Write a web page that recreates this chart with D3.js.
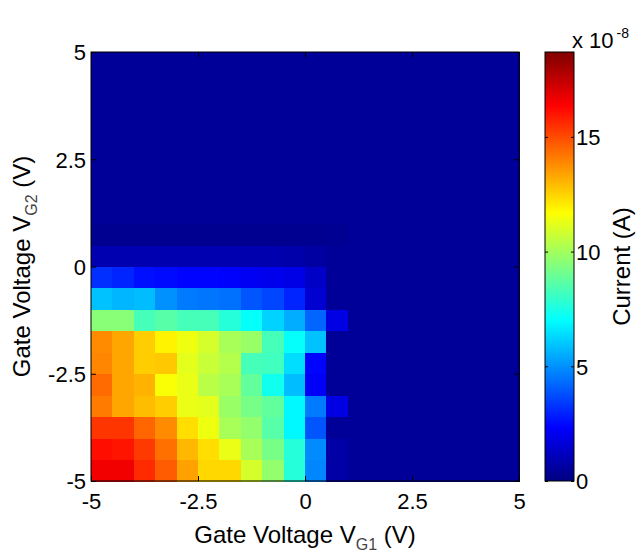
<!DOCTYPE html>
<html>
<head>
<meta charset="utf-8">
<script src="https://cdn.jsdelivr.net/npm/d3@7"></script>
<style>
  body { margin: 0; background: #fff; }
  text { font-family: "Liberation Sans", Arial, sans-serif; fill: #000; }
</style>
</head>
<body>
<script>
// Gate voltage grid (left/bottom edge of each cell, V) and cell size
const vg1 = [-5, -4.5, -4, -3.5, -3, -2.5, -2, -1.5, -1, -0.5, 0, 0.5, 1, 1.5, 2, 2.5, 3, 3.5, 4, 4.5];
const vg2 = [-5, -4.5, -4, -3.5, -3, -2.5, -2, -1.5, -1, -0.5, 0, 0.5, 1, 1.5, 2, 2.5, 3, 3.5, 4, 4.5];
const step = 0.5;

// Current (x 1e-8 A), one row per VG2 value (bottom row first), one entry per VG1 value
const current = [
  [16.6, 16.6, 15.6, 14.7, 13.4, 12.4, 12.4, 10.9, 9.7, 7.7, 4.8, 0.7, 0.45, 0.45, 0.45, 0.45, 0.45, 0.45, 0.45, 0.45],
  [16.1, 16.0, 15.3, 14.3, 13.0, 12.3, 11.3, 10.1, 9.2, 7.7, 4.9, 0.7, 0.45, 0.45, 0.45, 0.45, 0.45, 0.45, 0.45, 0.45],
  [15.4, 15.4, 14.5, 13.8, 12.3, 11.4, 10.1, 9.7, 8.6, 6.9, 3.9, 0.45, 0.45, 0.45, 0.45, 0.45, 0.45, 0.45, 0.45, 0.45],
  [14.1, 13.3, 12.9, 12.6, 11.3, 11.2, 9.8, 9.2, 8.8, 6.9, 4.6, 1.8, 0.45, 0.45, 0.45, 0.45, 0.45, 0.45, 0.45, 0.45],
  [14.4, 13.3, 13.1, 11.6, 11.3, 10.4, 10.1, 8.8, 7.3, 5.8, 2.2, 0.45, 0.45, 0.45, 0.45, 0.45, 0.45, 0.45, 0.45, 0.45],
  [13.9, 13.3, 12.6, 12.7, 11.2, 10.7, 10.3, 8.3, 8.2, 6.4, 2.4, 0.45, 0.45, 0.45, 0.45, 0.45, 0.45, 0.45, 0.45, 0.45],
  [13.8, 13.3, 12.6, 11.9, 11.4, 10.9, 10.1, 9.8, 8.3, 7.1, 5.9, 0.45, 0.45, 0.45, 0.45, 0.45, 0.45, 0.45, 0.45, 0.45],
  [9.5, 9.5, 8.3, 8.6, 8.3, 8.3, 7.7, 7.1, 6.2, 5.5, 4.2, 1.8, 0.45, 0.45, 0.45, 0.45, 0.45, 0.45, 0.45, 0.45],
  [5.9, 5.7, 5.8, 5.0, 4.6, 4.5, 4.4, 3.9, 3.6, 3.0, 1.5, 0.45, 0.45, 0.45, 0.45, 0.45, 0.45, 0.45, 0.45, 0.45],
  [3.2, 3.0, 2.6, 2.5, 2.4, 2.4, 2.3, 2.1, 2.0, 1.9, 1.3, 0.45, 0.45, 0.45, 0.45, 0.45, 0.45, 0.45, 0.45, 0.45],
  [0.9, 0.9, 0.9, 0.9, 0.9, 0.9, 0.9, 0.85, 0.85, 0.8, 0.6, 0.45, 0.45, 0.45, 0.45, 0.45, 0.45, 0.45, 0.45, 0.45],
  [0.3, 0.3, 0.3, 0.3, 0.3, 0.3, 0.3, 0.3, 0.3, 0.3, 0.3, 0.35, 0.45, 0.45, 0.45, 0.45, 0.45, 0.45, 0.45, 0.45],
  [0.45, 0.45, 0.45, 0.45, 0.45, 0.45, 0.45, 0.45, 0.45, 0.45, 0.45, 0.45, 0.45, 0.45, 0.45, 0.45, 0.45, 0.45, 0.45, 0.45],
  [0.45, 0.45, 0.45, 0.45, 0.45, 0.45, 0.45, 0.45, 0.45, 0.45, 0.45, 0.45, 0.45, 0.45, 0.45, 0.45, 0.45, 0.45, 0.45, 0.45],
  [0.45, 0.45, 0.45, 0.45, 0.45, 0.45, 0.45, 0.45, 0.45, 0.45, 0.45, 0.45, 0.45, 0.45, 0.45, 0.45, 0.45, 0.45, 0.45, 0.45],
  [0.45, 0.45, 0.45, 0.45, 0.45, 0.45, 0.45, 0.45, 0.45, 0.45, 0.45, 0.45, 0.45, 0.45, 0.45, 0.45, 0.45, 0.45, 0.45, 0.45],
  [0.45, 0.45, 0.45, 0.45, 0.45, 0.45, 0.45, 0.45, 0.45, 0.45, 0.45, 0.45, 0.45, 0.45, 0.45, 0.45, 0.45, 0.45, 0.45, 0.45],
  [0.45, 0.45, 0.45, 0.45, 0.45, 0.45, 0.45, 0.45, 0.45, 0.45, 0.45, 0.45, 0.45, 0.45, 0.45, 0.45, 0.45, 0.45, 0.45, 0.45],
  [0.45, 0.45, 0.45, 0.45, 0.45, 0.45, 0.45, 0.45, 0.45, 0.45, 0.45, 0.45, 0.45, 0.45, 0.45, 0.45, 0.45, 0.45, 0.45, 0.45],
  [0.45, 0.45, 0.45, 0.45, 0.45, 0.45, 0.45, 0.45, 0.45, 0.45, 0.45, 0.45, 0.45, 0.45, 0.45, 0.45, 0.45, 0.45, 0.45, 0.45]
];

const axisTicks = [-5, -2.5, 0, 2.5, 5];
const cbarTicks = [0, 5, 10, 15];
const cmax = 18.7;

const width = 638, height = 552;
const plot = {left: 91, top: 52, right: 519, bottom: 481};
const cbar = {left: 545, right: 574};

// MATLAB-style jet colormap
function jet(t) {
  const c = v => Math.max(0, Math.min(1, v));
  const r = c(Math.min(4 * t - 1.5, -4 * t + 4.5));
  const g = c(Math.min(4 * t - 0.5, -4 * t + 3.5));
  const b = c(Math.min(4 * t + 0.5, -4 * t + 2.5));
  return d3.rgb(r * 255, g * 255, b * 255).toString();
}

const x = d3.scaleLinear().domain([-5, 5]).range([plot.left, plot.right]);
const y = d3.scaleLinear().domain([-5, 5]).range([plot.bottom, plot.top]);
const color = d3.scaleSequential([0, cmax], jet);
const yc = d3.scaleLinear().domain([0, cmax]).range([plot.bottom, plot.top]);

const cells = [];
vg2.forEach((v2, i) => vg1.forEach((v1, j) => cells.push({v1, v2, value: current[i][j]})));

const svg = d3.select("body").append("svg")
  .attr("width", width)
  .attr("height", height);

svg.append("g")
  .attr("shape-rendering", "crispEdges")
  .selectAll("rect")
  .data(cells)
  .join("rect")
  .attr("x", d => x(d.v1))
  .attr("y", d => y(d.v2 + step))
  .attr("width", d => x(d.v1 + step) - x(d.v1) + 0.5)
  .attr("height", d => y(d.v2) - y(d.v2 + step) + 0.5)
  .attr("fill", d => color(d.value));

// axes, ticks pointing inward like matlab
const tickLen = 5;
const fontTick = 22;
const fmt = d => String(d);
const ax = svg.append("g").attr("transform", `translate(0,${plot.bottom})`)
  .call(d3.axisBottom(x).tickValues(axisTicks).tickSize(-tickLen).tickPadding(12).tickFormat(fmt));
const axTop = svg.append("g").attr("transform", `translate(0,${plot.top})`)
  .call(d3.axisTop(x).tickValues(axisTicks).tickSize(-tickLen).tickFormat(""));
const axLeft = svg.append("g").attr("transform", `translate(${plot.left},0)`)
  .call(d3.axisLeft(y).tickValues(axisTicks).tickSize(-tickLen).tickPadding(5).tickFormat(fmt));
const axRight = svg.append("g").attr("transform", `translate(${plot.right},0)`)
  .call(d3.axisRight(y).tickValues(axisTicks).tickSize(-tickLen).tickFormat(""));

[ax, axTop, axLeft, axRight].forEach(g => {
  g.select(".domain").remove();
  g.selectAll(".tick line").attr("stroke", "#000");
  g.selectAll("text").attr("font-size", fontTick).attr("font-family", "Liberation Sans, Arial, sans-serif").attr("fill", "#000");
});
axLeft.selectAll("text").attr("dy", "0.36em");

svg.append("rect")
  .attr("x", plot.left).attr("y", plot.top)
  .attr("width", plot.right - plot.left).attr("height", plot.bottom - plot.top)
  .attr("fill", "none").attr("stroke", "#000").attr("stroke-width", 1);

// colorbar
const defs = svg.append("defs");
const grad = defs.append("linearGradient").attr("id", "jetgrad")
  .attr("x1", 0).attr("y1", 1).attr("x2", 0).attr("y2", 0);
grad.selectAll("stop")
  .data(d3.range(0, 1.0001, 1 / 64))
  .join("stop")
  .attr("offset", d => d)
  .attr("stop-color", d => jet(d));

svg.append("rect")
  .attr("x", cbar.left).attr("y", yc(cmax))
  .attr("width", cbar.right - cbar.left).attr("height", yc(0) - yc(cmax))
  .attr("fill", "url(#jetgrad)")
  .attr("stroke", "#000").attr("stroke-width", 1);

const cbRight = svg.append("g").attr("transform", `translate(${cbar.right},0)`)
  .call(d3.axisRight(yc).tickValues(cbarTicks).tickSize(-3).tickPadding(2).tickFormat(fmt));
const cbLeft = svg.append("g").attr("transform", `translate(${cbar.left},0)`)
  .call(d3.axisLeft(yc).tickValues(cbarTicks).tickSize(-3).tickFormat(""));
[cbRight, cbLeft].forEach(g => {
  g.select(".domain").remove();
  g.selectAll(".tick line").attr("stroke", "#000");
  g.selectAll("text").attr("font-size", fontTick).attr("font-family", "Liberation Sans, Arial, sans-serif").attr("fill", "#000").attr("dy", "0.36em");
});

// exponent label
const expo = svg.append("text").attr("x", 572).attr("y", 48).attr("font-size", fontTick);
expo.append("tspan").text("x 10");
expo.append("tspan").attr("font-size", 14).attr("dy", -10).attr("dx", 3).text("-8");

// axis labels
const fontLabel = 24;
const xl = svg.append("text")
  .attr("x", (plot.left + plot.right) / 2).attr("y", 543)
  .attr("text-anchor", "middle").attr("font-size", fontLabel);
xl.append("tspan").text("Gate Voltage V");
xl.append("tspan").attr("font-size", 16).attr("dy", 7).attr("fill", "#444").text("G1");
xl.append("tspan").attr("dy", -7).text(" (V)");

const yl = svg.append("text")
  .attr("transform", `translate(30,${(plot.top + plot.bottom) / 2}) rotate(-90)`)
  .attr("text-anchor", "middle").attr("font-size", fontLabel);
yl.append("tspan").text("Gate Voltage V");
yl.append("tspan").attr("font-size", 16).attr("dy", 7).attr("fill", "#444").text("G2");
yl.append("tspan").attr("dy", -7).text(" (V)");

svg.append("text")
  .attr("transform", `translate(630,${(plot.top + plot.bottom) / 2}) rotate(-90)`)
  .attr("text-anchor", "middle").attr("font-size", fontLabel)
  .text("Current (A)");
</script>
</body>
</html>
